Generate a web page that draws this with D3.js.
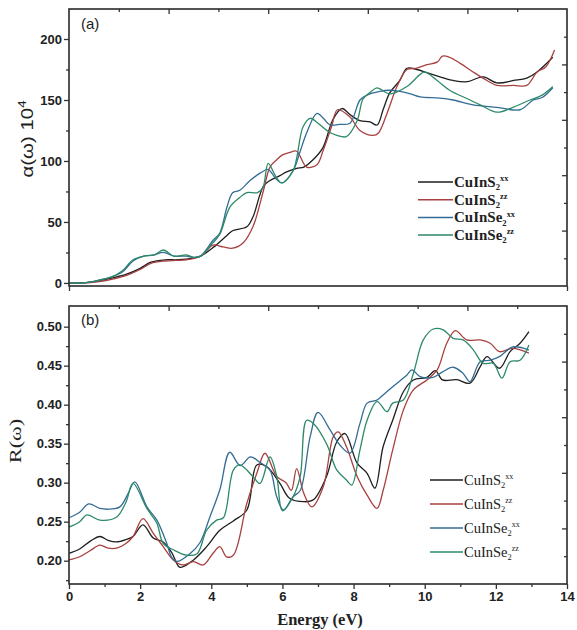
<!DOCTYPE html>
<html>
<head>
<meta charset="utf-8">
<script src="https://cdn.jsdelivr.net/npm/d3@7"></script>
<style>
  body { margin: 0; background: #fff; }
  text { fill: #222; }
</style>
</head>
<body>
<script>
const canvWidth = 577, canvHeight = 630;
const plotLeft = 69, plotRight = 567;
const panelA = {top: 9, bottom: 286};
const panelB = {top: 306, bottom: 584};

// ---- data (energy in eV, value) ----
const absCuInS2xx = [[0,0],[0.4,0],[0.8,1.5],[1.2,4],[1.6,7],[2.0,12],[2.3,17],[2.7,19],[3.0,19],[3.3,19.5],[3.7,22],
  [4.05,29],[4.44,39],[4.61,43],[5.0,46],[5.17,54],[5.46,79],[5.65,84],[5.93,88],[6.12,91],[6.4,94],[6.6,95],[6.86,101],
  [7.14,111],[7.42,134],[7.67,143],[7.9,138],[8.18,133],[8.46,132],[8.66,129.5],[8.83,142],[9.02,156],[9.3,166],[9.5,176],
  [9.78,175],[10.1,172],[10.43,169],[10.8,166],[11.2,165],[11.64,169],[12.03,164],[12.5,166],[12.87,168],[13.16,173],[13.6,185]];
const absCuInS2zz = [[0,0],[0.4,0],[0.8,1],[1.2,3],[1.6,6],[2.0,11],[2.3,16],[2.7,18],[3.0,18.5],[3.3,19],[3.7,22],
  [4.05,31],[4.34,29.5],[4.6,28.5],[4.9,33],[5.17,46],[5.46,75],[5.65,95],[5.84,101],[6.0,105],[6.2,107],[6.4,108],[6.68,95],
  [6.97,97],[7.15,109],[7.38,128],[7.55,142],[7.9,136],[8.18,125],[8.55,121],[8.7,123],[8.94,139],[9.22,161],[9.5,175],
  [9.75,176],[10.06,179],[10.35,181],[10.5,186],[10.7,185],[11.0,180],[11.36,173],[11.75,166],[12.03,162],[12.5,162],
  [12.87,162],[13.16,173],[13.4,177],[13.65,191]];
const absCuInSe2xx = [[0,0],[0.4,0],[0.8,2],[1.2,5],[1.5,9],[1.8,18],[2.1,22],[2.4,23],[2.65,25],[2.95,22],[3.3,22],[3.5,21],
  [3.7,22],[4.05,35],[4.24,41],[4.44,62],[4.6,74],[4.8,76],[5.09,84],[5.37,90],[5.6,93],[5.8,86],[5.98,82],[6.3,92],[6.5,108],
  [6.68,123],[6.97,139],[7.15,135],[7.34,129.5],[7.6,130],[7.9,131],[8.18,150],[8.38,154],[8.74,157],[9.0,158],[9.3,157],
  [9.6,155],[9.87,152.5],[10.43,151.6],[10.8,150],[11.36,146],[12.03,144],[12.68,142],[13.05,150],[13.3,152],[13.6,160]];
const absCuInSe2zz = [[0,0],[0.4,0],[0.8,2],[1.2,5],[1.5,10],[1.8,19],[2.1,22],[2.4,23],[2.65,27],[2.95,22],[3.3,23],[3.5,21],
  [3.7,22],[4.05,33],[4.24,40],[4.52,62],[4.8,70],[5.0,74],[5.3,74],[5.45,78],[5.6,98],[5.8,88],[5.98,82],[6.3,92],[6.58,128],
  [6.78,135],[7.0,131],[7.3,124],[7.53,121],[7.8,120],[8.1,133],[8.27,151],[8.5,157],[8.66,160],[9.02,155],[9.5,161],
  [9.87,171],[10.0,173],[10.35,166],[10.7,158],[11.2,151],[11.56,146],[12.03,140],[12.48,144],[12.96,150],[13.3,154],[13.6,161]];

const refCuInS2xx = [[0,0.2095],[0.3,0.215],[0.6,0.225],[0.87,0.231],[1.1,0.226],[1.34,0.224],[1.6,0.227],[1.8,0.231],
  [2.08,0.2458],[2.37,0.229],[2.65,0.224],[2.9,0.2095],[3.12,0.1915],[3.5,0.201],[3.87,0.218],[4.24,0.239],[4.62,0.251],
  [5.0,0.265],[5.28,0.3227],[5.56,0.3205],[5.93,0.299],[6.2,0.28],[6.6,0.2756],[6.87,0.278],[7.24,0.308],[7.53,0.3525],
  [7.76,0.363],[8.1,0.325],[8.38,0.312],[8.6,0.293],[8.83,0.346],[9.1,0.38],[9.4,0.4166],[9.68,0.4317],[10.06,0.435],
  [10.3,0.4436],[10.5,0.4317],[10.9,0.432],[11.27,0.4275],[11.56,0.4487],[11.75,0.4616],[12.1,0.4467],[12.4,0.468],
  [12.68,0.4787],[12.93,0.4936]];
const refCuInS2zz = [[0,0.2009],[0.3,0.205],[0.6,0.213],[0.87,0.22],[1.1,0.216],[1.34,0.216],[1.6,0.222],[1.8,0.231],
  [2.08,0.254],[2.37,0.235],[2.65,0.218],[2.93,0.201],[3.2,0.1945],[3.5,0.1987],[3.77,0.1945],[4.05,0.2095],[4.24,0.218],
  [4.43,0.205],[4.62,0.207],[5.0,0.2736],[5.28,0.312],[5.51,0.3377],[5.84,0.308],[6.1,0.3],[6.25,0.29],[6.4,0.318],
  [6.6,0.2864],[6.83,0.269],[7.15,0.295],[7.43,0.359],[7.57,0.365],[7.8,0.346],[8.1,0.308],[8.38,0.284],[8.66,0.267],
  [8.83,0.29],[9.1,0.342],[9.4,0.393],[9.68,0.419],[10.06,0.4317],[10.35,0.4445],[10.62,0.4787],[10.86,0.495],[11.18,0.483],
  [11.56,0.483],[11.84,0.4787],[12.1,0.468],[12.48,0.4723],[12.93,0.466]];
const refCuInSe2xx = [[0,0.255],[0.3,0.262],[0.55,0.2727],[0.87,0.267],[1.1,0.266],[1.43,0.269],[1.65,0.285],[1.85,0.301],
  [2.19,0.269],[2.47,0.252],[2.75,0.222],[2.88,0.205],[3.03,0.199],[3.4,0.209],[3.68,0.223],[3.96,0.256],[4.24,0.291],
  [4.52,0.339],[4.81,0.322],[5.1,0.333],[5.37,0.326],[5.65,0.316],[5.84,0.282],[6.03,0.265],[6.3,0.282],[6.5,0.29],
  [6.78,0.359],[7.0,0.39],[7.34,0.3676],[7.62,0.348],[7.9,0.338],[8.18,0.376],[8.38,0.402],[8.66,0.406],[8.83,0.4125],
  [9.1,0.423],[9.5,0.438],[9.64,0.4445],[9.87,0.436],[10.23,0.435],[10.5,0.442],[10.8,0.448],[11.08,0.44],[11.27,0.4295],
  [11.56,0.455],[11.84,0.457],[12.1,0.4616],[12.48,0.474],[12.93,0.47]];
const refCuInSe2zz = [[0,0.243],[0.3,0.25],[0.5,0.2586],[0.87,0.252],[1.34,0.256],[1.6,0.275],[1.8,0.299],[2.19,0.267],
  [2.47,0.248],[2.65,0.222],[2.93,0.214],[3.3,0.207],[3.6,0.209],[3.87,0.239],[4.15,0.252],[4.34,0.255],[4.62,0.316],
  [4.8,0.3227],[5.17,0.308],[5.37,0.299],[5.65,0.333],[5.84,0.308],[6.0,0.264],[6.3,0.282],[6.5,0.308],[6.68,0.38],
  [6.87,0.376],[7.24,0.35],[7.53,0.316],[7.8,0.3035],[7.95,0.297],[8.18,0.342],[8.38,0.38],[8.66,0.404],[8.94,0.391],
  [9.1,0.402],[9.4,0.406],[9.68,0.44],[9.96,0.483],[10.24,0.497],[10.52,0.496],[10.8,0.485],[11.08,0.483],[11.37,0.47],
  [11.64,0.453],[11.93,0.453],[12.17,0.434],[12.4,0.455],[12.68,0.457],[12.93,0.4765]];

const legendLabels = [
  {base: "CuInS", sub: "2", sup: "xx"},
  {base: "CuInS", sub: "2", sup: "zz"},
  {base: "CuInSe", sub: "2", sup: "xx"},
  {base: "CuInSe", sub: "2", sup: "zz"}
];
const seriesColors = ["#1e1e1e", "#a8403f", "#336c94", "#2c8a68"];

const xTicks = [0, 2, 4, 6, 8, 10, 12, 14];
const xMinorTicks = [1, 3, 5, 7, 9, 11, 13];
const yTicksA = [0, 50, 100, 150, 200];
const yMinorTicksA = [25, 75, 125, 175];
const yTicksB = [0.20, 0.25, 0.30, 0.35, 0.40, 0.45, 0.50];
const yMinorTicksB = [0.175, 0.225, 0.275, 0.325, 0.375, 0.425, 0.475];
const frameMajor = [2, 4, 6, 8];
const frameMinor = [1, 3, 5, 7, 9];

const svg = d3.select("body").append("svg")
    .attr("width", canvWidth)
    .attr("height", canvHeight);

const xScale = d3.scaleLinear().domain([0, 14]).range([plotLeft, plotRight]);
const yScaleA = d3.scaleLinear().domain([-2.5, 224.6]).range([panelA.bottom, panelA.top]);
const yScaleB = d3.scaleLinear().domain([0.1701, 0.5265]).range([panelB.bottom, panelB.top]);
// the top/right frame ticks don't follow the data axes in the original
const frameX = d3.scaleLinear().domain([0, 10]).range([plotLeft, plotRight]);

function styleAxis(g) {
    g.select(".domain").remove();
    g.selectAll("line").attr("stroke", "#333").attr("stroke-width", 1.3);
    g.selectAll("text")
        .attr("font-family", "Liberation Sans, Arial, sans-serif")
        .attr("font-weight", "bold")
        .attr("font-size", "13px")
        .attr("fill", "#222");
}

function drawPanel(panel, yScale, yTicks, yMinor, yFormat, series) {
    const frameY = d3.scaleLinear().domain([0, 10]).range([panel.bottom, panel.top]);
    const g = svg.append("g");

    // curves
    const line = d3.line()
        .x(d => xScale(d[0]))
        .y(d => yScale(d[1]))
        .curve(d3.curveCatmullRom.alpha(0.5));
    g.append("g").selectAll("path")
        .data(series)
        .enter().append("path")
        .attr("d", d => line(d))
        .attr("fill", "none")
        .attr("stroke", (d, i) => seriesColors[i])
        .attr("stroke-width", 1.3);

    // left axis
    g.append("g").attr("transform", `translate(${plotLeft},0)`)
        .call(d3.axisLeft(yScale).tickValues(yTicks).tickSize(5).tickPadding(2).tickFormat(yFormat))
        .call(styleAxis);
    g.append("g").attr("transform", `translate(${plotLeft},0)`)
        .call(d3.axisLeft(yScale).tickValues(yMinor).tickSize(3).tickFormat(""))
        .call(styleAxis);

    // top and right frame ticks (inward)
    g.append("g").attr("transform", `translate(0,${panel.top})`)
        .call(d3.axisTop(frameX).tickValues(frameMajor).tickSize(-5).tickFormat(""))
        .call(styleAxis);
    g.append("g").attr("transform", `translate(0,${panel.top})`)
        .call(d3.axisTop(frameX).tickValues(frameMinor).tickSize(-3).tickFormat(""))
        .call(styleAxis);
    g.append("g").attr("transform", `translate(${plotRight},0)`)
        .call(d3.axisRight(frameY).tickValues(frameMajor).tickSize(-5).tickFormat(""))
        .call(styleAxis);
    g.append("g").attr("transform", `translate(${plotRight},0)`)
        .call(d3.axisRight(frameY).tickValues(frameMinor).tickSize(-3).tickFormat(""))
        .call(styleAxis);

    g.append("rect")
        .attr("x", plotLeft)
        .attr("y", panel.top)
        .attr("width", plotRight - plotLeft)
        .attr("height", panel.bottom - panel.top)
        .attr("fill", "none")
        .attr("stroke", "#2a2a2a")
        .attr("stroke-width", 1.6);
    return g;
}

function drawLegend(x0, y0, rowStep, lineLen, fontSize, weight) {
    const lg = svg.append("g").attr("transform", `translate(${x0},${y0})`);
    const rows = lg.selectAll("g")
        .data(legendLabels)
        .enter().append("g")
        .attr("transform", (d, i) => `translate(0,${i * rowStep})`);
    rows.append("line")
        .attr("x1", 0).attr("x2", lineLen)
        .attr("y1", 0).attr("y2", 0)
        .attr("stroke", (d, i) => seriesColors[i])
        .attr("stroke-width", 1.5);
    const t = rows.append("text")
        .attr("x", lineLen + 1)
        .attr("y", fontSize * 0.33)
        .attr("font-family", "Liberation Serif, Times New Roman, serif")
        .attr("font-weight", weight)
        .attr("font-size", fontSize + "px");
    t.append("tspan").text(d => d.base);
    t.append("tspan").attr("dy", fontSize * 0.22).attr("font-size", (fontSize * 0.58) + "px").text(d => d.sub);
    t.append("tspan").attr("dy", -fontSize * 0.6).attr("font-size", (fontSize * 0.55) + "px").text(d => d.sup);
}

// panel (a)
const gA = drawPanel(panelA, yScaleA, yTicksA, yMinorTicksA, d3.format("d"),
    [absCuInS2xx, absCuInS2zz, absCuInSe2xx, absCuInSe2zz]);
gA.append("g").attr("transform", `translate(0,${panelA.bottom})`)
    .call(d3.axisBottom(xScale).tickValues([0, 14]).tickSize(5).tickFormat(""))
    .call(styleAxis);

// panel (b)
const gB = drawPanel(panelB, yScaleB, yTicksB, yMinorTicksB, d3.format(".2f"),
    [refCuInS2xx, refCuInS2zz, refCuInSe2xx, refCuInSe2zz]);
gB.append("g").attr("transform", `translate(0,${panelB.bottom})`)
    .call(d3.axisBottom(xScale).tickValues(xTicks).tickSize(5).tickPadding(3))
    .call(styleAxis);
gB.append("g").attr("transform", `translate(0,${panelB.bottom})`)
    .call(d3.axisBottom(xScale).tickValues(xMinorTicks).tickSize(3).tickFormat(""))
    .call(styleAxis);

// panel tags
svg.append("text").attr("x", 81).attr("y", 29)
    .attr("font-family", "Liberation Sans, Arial, sans-serif").attr("font-size", "15px")
    .text("(a)");
svg.append("text").attr("x", 81).attr("y", 325)
    .attr("font-family", "Liberation Sans, Arial, sans-serif").attr("font-size", "15px")
    .text("(b)");

// axis titles
const yTitleA = svg.append("text")
    .attr("transform", "translate(33,139) rotate(-90) scale(1.2,1)")
    .attr("text-anchor", "middle")
    .attr("font-family", "Liberation Sans, Arial, sans-serif")
    .attr("font-size", "17px");
yTitleA.append("tspan").text("α(ω) 10");
yTitleA.append("tspan").attr("dy", -7).attr("font-size", "11px").text("4");

svg.append("text")
    .attr("transform", "translate(21,441) rotate(-90) scale(1.4,1)")
    .attr("text-anchor", "middle")
    .attr("font-family", "Liberation Serif, Times New Roman, serif")
    .attr("font-size", "16px")
    .text("R(ω)");

svg.append("text")
    .attr("x", 320).attr("y", 625)
    .attr("text-anchor", "middle")
    .attr("font-family", "Liberation Serif, Times New Roman, serif")
    .attr("font-weight", "bold")
    .attr("font-size", "16.5px")
    .text("Energy (eV)");

drawLegend(418, 182, 17.7, 35, 15, "bold");
drawLegend(430, 480, 24, 33, 14.5, "normal");
</script>
</body>
</html>
